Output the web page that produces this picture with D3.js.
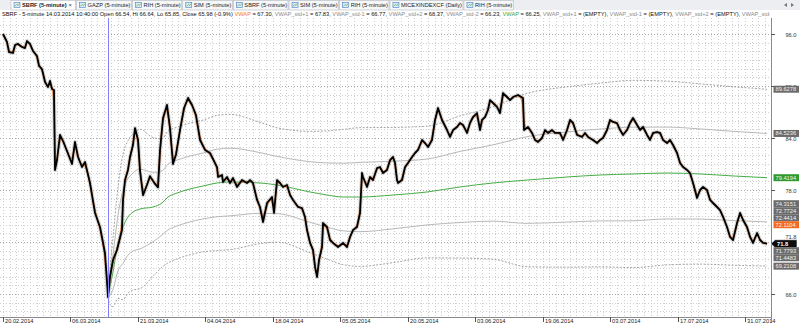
<!DOCTYPE html>
<html>
<head>
<meta charset="utf-8">
<script src="https://cdn.jsdelivr.net/npm/d3@7"></script>
<style>
  body { margin: 0; background: #fff; }
  svg { display: block; font-family: "Liberation Sans", Arial, sans-serif; }
</style>
</head>
<body>
<svg id="chart"></svg>
<script>
// ---- data ----
// x axis: trading day index (20.02.2014 = 0)
const tickDays = [0, 10, 20, 30, 40, 50, 60, 70, 80, 90, 100, 110];
const tickDates = ['20.02.2014', '06.03.2014', '21.03.2014', '04.04.2014', '18.04.2014', '05.05.2014',
  '20.05.2014', '03.06.2014', '19.06.2014', '03.07.2014', '17.07.2014', '31.07.2014'];
const priceTicks = [96, 90, 84, 78, 72, 66];

// SBRF 5-minute, sampled
const priceDays = [0.00, 0.59, 0.89, 1.48, 1.78, 2.22, 2.82, 3.26, 3.56, 4.00, 4.45, 5.04, 5.34, 5.78, 6.23, 6.67,
  6.97, 7.26, 7.56, 7.71, 8.01, 8.45, 8.90, 9.49, 10.23, 10.67, 11.12, 11.71, 12.16, 12.90, 13.64, 14.38, 15.12,
  15.57, 15.86, 16.31, 16.90, 17.64, 17.79, 18.09, 18.53, 18.83, 19.27, 19.57, 20.02, 20.31, 20.76, 21.35, 21.79,
  22.54, 22.98, 23.28, 23.72, 24.31, 24.76, 25.20, 25.65, 26.24, 26.84, 27.43, 28.02, 28.61, 29.21, 29.95, 30.69,
  31.73, 31.88, 32.47, 32.62, 33.21, 33.66, 34.10, 34.69, 35.43, 36.17, 36.62, 37.06, 37.66, 38.10, 38.55, 39.14,
  39.88, 40.18, 40.62, 41.07, 41.51, 42.11, 42.55, 43.00, 43.74, 44.33, 44.77, 45.07, 45.52, 45.96, 46.26, 46.56,
  46.85, 47.30, 47.44, 48.04, 48.48, 48.93, 49.67, 50.41, 51.00, 51.45, 51.89, 52.48, 52.93, 53.22, 53.37, 53.97,
  54.41, 54.86, 55.45, 55.89, 56.34, 56.93, 57.38, 57.82, 58.12, 58.41, 58.56, 59.16, 59.60, 60.04, 60.64, 61.08,
  61.53, 62.12, 62.56, 63.01, 63.60, 64.05, 64.49, 65.08, 65.83, 66.27, 66.72, 67.31, 67.75, 68.20, 68.79, 69.23,
  69.68, 70.27, 70.72, 71.01, 71.46, 71.90, 72.20, 72.65, 73.24, 73.68, 74.13, 74.72, 75.17, 75.61, 76.35, 77.09,
  77.24, 77.84, 78.43, 78.87, 79.32, 79.91, 80.36, 80.80, 81.39, 81.84, 82.58, 83.03, 83.62, 84.06, 84.51, 85.10,
  85.84, 86.29, 86.73, 87.47, 88.07, 88.51, 88.95, 89.55, 89.99, 90.44, 91.03, 91.48, 91.92, 92.51, 92.96, 93.40,
  94.00, 94.44, 94.89, 95.48, 95.92, 96.37, 96.96, 97.41, 97.85, 98.44, 98.89, 99.33, 99.93, 100.37, 100.82,
  101.41, 101.85, 102.30, 102.89, 103.34, 103.78, 104.37, 104.82, 105.26, 105.86, 106.30, 106.75, 107.34, 107.78,
  108.23, 108.82, 109.27, 109.71, 110.30, 110.75, 111.19, 111.79, 112.23, 112.68, 113.27];
const priceClose = [96.00, 95.08, 93.92, 93.81, 94.73, 94.85, 94.50, 94.38, 95.19, 94.85, 94.04, 93.46, 92.31, 91.96,
  90.46, 89.88, 90.58, 89.65, 89.54, 80.31, 81.46, 84.35, 83.65, 82.50, 81.00, 83.54, 81.81, 80.65, 81.23, 78.81,
  75.35, 73.73, 70.73, 65.65, 67.96, 69.92, 71.08, 73.38, 76.85, 79.15, 80.31, 81.81, 83.19, 85.15, 83.77, 80.20,
  77.40, 78.60, 79.60, 78.70, 78.30, 82.62, 86.31, 87.81, 85.15, 81.00, 82.10, 84.92, 87.46, 88.62, 87.81, 86.65,
  83.77, 82.62, 82.27, 80.65, 79.50, 79.73, 78.92, 79.50, 78.81, 79.38, 78.35, 79.15, 78.81, 79.15, 78.81, 76.85,
  76.04, 74.31, 76.50, 77.19, 75.35, 79.15, 78.81, 78.35, 78.58, 77.42, 76.85, 76.04, 75.92, 74.89, 73.38, 71.89,
  71.08, 69.12, 67.96, 69.92, 71.42, 74.19, 73.73, 72.23, 71.89, 71.42, 71.89, 71.42, 72.58, 73.38, 73.73, 75.35,
  79.96, 79.50, 78.35, 79.50, 79.15, 80.54, 80.65, 79.96, 80.31, 81.46, 81.81, 81.12, 79.15, 78.81, 79.15, 80.65,
  81.12, 81.81, 82.27, 82.62, 83.77, 83.42, 82.96, 83.77, 86.08, 87.46, 86.08, 84.92, 84.12, 84.92, 85.27, 85.73,
  85.50, 84.58, 85.73, 86.42, 86.88, 84.92, 86.08, 86.42, 87.23, 88.38, 88.04, 87.58, 86.88, 89.19, 88.73, 88.38,
  88.73, 88.96, 88.62, 84.92, 85.27, 84.58, 83.77, 83.54, 84.00, 84.92, 84.58, 84.92, 84.58, 84.58, 83.77, 84.92,
  86.08, 85.73, 84.35, 84.12, 84.58, 84.12, 83.77, 83.42, 83.77, 84.00, 84.92, 86.08, 85.85, 85.73, 84.92, 84.35,
  84.92, 85.73, 86.31, 85.50, 84.92, 85.27, 84.35, 83.77, 84.58, 84.69, 84.58, 83.77, 83.42, 83.77, 83.19, 82.27,
  81.12, 80.65, 80.31, 79.96, 78.81, 77.08, 78.00, 78.35, 78.00, 76.85, 76.50, 76.04, 75.69, 74.89, 73.73, 72.58,
  72.23, 74.19, 75.35, 74.54, 73.73, 72.58, 71.89, 73.04, 72.23, 71.89, 71.80];

// anchored VWAP (green) and its standard deviation
const anchorDay = 15.57;
const vwapDays = [15.57, 15.86, 16.31, 17.05, 17.79, 18.53, 19.27, 20.31, 22.24, 23.57, 24.46, 25.80, 27.72, 29.65,
  31.73, 33.66, 38.10, 40.62, 45.52, 48.04, 50.41, 52.93, 57.82, 62.86, 67.75, 72.65, 77.69, 83.62, 88.51, 93.40,
  98.44, 103.34, 108.23, 113.27];
const vwapValues = [65.65, 66.81, 68.54, 71.89, 73.73, 74.89, 75.46, 75.81, 76.04, 76.50, 77.19, 77.65, 78.12, 78.46,
  78.81, 78.92, 78.81, 78.58, 77.77, 77.42, 77.19, 77.19, 77.42, 77.77, 78.35, 78.81, 79.15, 79.50, 79.73, 79.85,
  79.96, 79.85, 79.62, 79.42];
const vwapStd = [0, 1.0, 2.0, 3.2, 4.2, 4.4, 4.5, 4.6, 4.0, 3.7, 3.8, 3.8, 3.8, 3.8, 3.9, 3.9, 3.5, 3.3, 3.5, 3.7,
  3.9, 4.0, 3.9, 3.8, 4.1, 4.4, 5.0, 5.2, 5.3, 5.4, 5.3, 5.2, 5.15, 5.10];

// price markers on the right scale
const markerValues = [89.6278, 84.5236, 79.4194, 74.3151, 72.7724, 72.4414, 72.1104, 71.8, 71.8, 71.7793, 71.4483, 69.2108];
const markerKinds = ['band', 'band', 'vwap', 'band', 'band', 'band', 'day', 'plain', 'last', 'band', 'band', 'band'];

const tabNames = ['SBRF (5-minute)', 'GAZP (5-minute)', 'RIH (5-minute)', 'SIM (5-minute)', 'SBRF (5-minute)',
  'SIM (5-minute)', 'RIH (5-minute)', 'MICEXINDEXCF (Daily)', 'RIH (5-minute)'];

// the status line is cut off by the price scale, as in the picture
const legendParts = [
  ['SBRF - 5-minute 14.03.2014 10:40:00 Open 66.54, Hi 66.64, Lo 65.85, Close 65.98 (-0.9%) ', 'text'],
  ['VWAP', 'day'], [' = 67.30, ', 'text'],
  ['VWAP_std+1', 'band'], [' = 67.83, ', 'text'],
  ['VWAP_std-1', 'band'], [' = 66.77, ', 'text'],
  ['VWAP_std+2', 'band'], [' = 68.37, ', 'text'],
  ['VWAP_std-2', 'band'], [' = 66.23, ', 'text'],
  ['VWAP', 'vwap'], [' = 66.25, ', 'text'],
  ['VWAP_std+1', 'band'], [' = (EMPTY), ', 'text'],
  ['VWAP_std-1', 'band'], [' = (EMPTY), ', 'text'],
  ['VWAP_std+2', 'band'], [' = (EMPTY), ', 'text'],
  ['VWAP_std-2', 'band']
];

const colors = { text: '#111', day: '#f07a30', vwap: '#3aa63a', band: '#8a8a8a' };

class PriceChart {

  constructor(_config) {
    this.config = {
      parentElement: _config.parentElement,
      containerWidth: 800,
      containerHeight: 324,
      plot: { left: 0, right: 771, top: 18, bottom: 317 },
      fontSize: 5.7
    };
    this.initVis();
  }

  initVis() {
    let vis = this;
    let p = vis.config.plot;

    vis.svg = d3.select(vis.config.parentElement)
      .attr('width', vis.config.containerWidth)
      .attr('height', vis.config.containerHeight);

    vis.xScale = d3.scaleLinear().domain([0, 110]).range([3, 745]);
    vis.yScale = d3.scaleLinear().domain([66, 96]).range([294, 34]);

    vis.svg.append('defs').append('clipPath').attr('id', 'plot-clip')
      .append('rect')
      .attr('x', p.left).attr('y', p.top)
      .attr('width', p.right - p.left).attr('height', p.bottom - p.top);

    vis.svg.select('defs').append('clipPath').attr('id', 'legend-clip')
      .append('rect').attr('x', 0).attr('y', 9).attr('width', p.right - 1).attr('height', 10);

    vis.renderVis();
  }

  renderVis() {
    let vis = this;
    let p = vis.config.plot;
    let fs = vis.config.fontSize;

    // tab strip
    vis.svg.append('rect').attr('x', 0).attr('y', 0).attr('width', 800).attr('height', 10).attr('fill', '#eceef1');
    let tx = 11;
    tabNames.forEach((name, i) => {
      let g = vis.svg.append('g');
      let active = i === 0;
      let rect = g.append('rect').attr('y', 0.5).attr('height', 9.5)
        .attr('fill', active ? '#ffffff' : '#f6f7f9').attr('stroke', '#b4b8bf').attr('stroke-width', 0.6);
      g.append('rect').attr('x', tx + 3).attr('y', 2.5).attr('width', 6).attr('height', 5)
        .attr('fill', '#dce9f7').attr('stroke', '#4a7fc0').attr('stroke-width', 0.6);
      g.append('path').attr('d', `M${tx + 3.5},6.5 L${tx + 5.5},4.5 L${tx + 7},5.5 L${tx + 8.5},3.5`)
        .attr('fill', 'none').attr('stroke', '#3aa63a').attr('stroke-width', 0.6);
      let t = g.append('text').attr('x', tx + 11).attr('y', 7.3)
        .style('font-size', fs + 'px').style('font-weight', active ? 'bold' : 'normal')
        .attr('fill', '#222').text(name);
      let w = t.node().getComputedTextLength() + 12;
      if (active) {
        g.append('text').attr('x', tx + w + 1).attr('y', 7.3).style('font-size', fs + 'px')
          .attr('fill', '#333').text('×');
        w += 8;
      }
      rect.attr('x', tx).attr('width', w);
      tx += w + 1;
    });
    vis.svg.append('path').attr('d', 'M787,3 L784,5 L787,7 Z').attr('fill', '#777');
    vis.svg.append('path').attr('d', 'M791,3 L794,5 L791,7 Z').attr('fill', '#777');

    // grid
    let grid = vis.svg.append('g').attr('clip-path', 'url(#plot-clip)');
    grid.selectAll('.vgrid')
      .data(d3.range(0, 115))
      .join('line')
      .attr('class', 'vgrid')
      .attr('x1', d => Math.round(vis.xScale(d)) + 0.5)
      .attr('x2', d => Math.round(vis.xScale(d)) + 0.5)
      .attr('y1', p.top).attr('y2', p.bottom)
      .attr('stroke', '#cfcfcf').attr('stroke-width', 1).attr('stroke-dasharray', '1,2');
    grid.selectAll('.hgrid')
      .data(d3.range(63, 98).filter(v => priceTicks.indexOf(v) < 0))
      .join('line')
      .attr('class', 'hgrid')
      .attr('x1', p.left).attr('x2', p.right)
      .attr('y1', d => Math.round(vis.yScale(d)) + 0.5)
      .attr('y2', d => Math.round(vis.yScale(d)) + 0.5)
      .attr('stroke', '#cfcfcf').attr('stroke-width', 1).attr('stroke-dasharray', '1,2');
    grid.selectAll('.hmajor')
      .data(priceTicks)
      .join('line')
      .attr('class', 'hmajor')
      .attr('x1', p.left).attr('x2', p.right)
      .attr('y1', d => Math.round(vis.yScale(d)) + 0.5)
      .attr('y2', d => Math.round(vis.yScale(d)) + 0.5)
      .attr('stroke', '#a8a8a8').attr('stroke-width', 1).attr('stroke-dasharray', '1,2');

    // anchored VWAP bands
    let plot = vis.svg.append('g').attr('clip-path', 'url(#plot-clip)');
    let vwapRows = vwapDays.map((d, i) => ({ d: d, v: vwapValues[i], s: vwapStd[i] }));
    let bandLine = k => d3.line()
      .x(r => vis.xScale(r.d))
      .y(r => vis.yScale(r.v + k * r.s))
      .curve(d3.curveMonotoneX);
    [[2, '#9a9a9a', '2,1.5'], [1, '#b0b0b0', null], [-1, '#b0b0b0', null], [-2, '#9a9a9a', '2,1.5']]
      .forEach(([k, c, dash]) => {
        plot.append('path')
          .datum(vwapRows)
          .attr('d', bandLine(k))
          .attr('fill', 'none')
          .attr('stroke', c)
          .attr('stroke-width', 0.9)
          .attr('stroke-dasharray', dash);
      });
    plot.append('path')
      .datum(vwapRows)
      .attr('d', bandLine(0))
      .attr('fill', 'none')
      .attr('stroke', '#45ad45')
      .attr('stroke-width', 1);

    // price
    let rows = priceDays.map((d, i) => ({ d: d, v: priceClose[i] }));
    let priceLine = d3.line().x(r => vis.xScale(r.d)).y(r => vis.yScale(r.v));
    plot.append('path').datum(rows).attr('d', priceLine)
      .attr('fill', 'none').attr('stroke', '#9c9c9c').attr('stroke-width', 4)
      .attr('stroke-opacity', 0.4).attr('stroke-linejoin', 'round');
    plot.append('path').datum(rows)
      .attr('d', d3.line().x(r => vis.xScale(r.d)).y(r => vis.yScale(r.v)).curve(d3.curveBasis))
      .attr('fill', 'none').attr('stroke', '#f07a30').attr('stroke-width', 1.5);
    plot.append('path').datum(rows).attr('d', priceLine)
      .attr('fill', 'none').attr('stroke', '#000').attr('stroke-width', 1.8)
      .attr('stroke-linejoin', 'round');

    // cursor line
    vis.svg.append('line')
      .attr('x1', Math.round(vis.xScale(anchorDay)) + 0.5).attr('x2', Math.round(vis.xScale(anchorDay)) + 0.5)
      .attr('y1', p.top).attr('y2', p.bottom)
      .attr('stroke', '#7f7fff').attr('stroke-width', 1);

    // legend
    let legend = vis.svg.append('text')
      .attr('clip-path', 'url(#legend-clip)')
      .attr('x', 2).attr('y', 16)
      .style('font-size', fs + 'px');
    legendParts.forEach(([t, kind]) => {
      legend.append('tspan').attr('fill', colors[kind]).style('white-space', 'pre').text(t);
    });
    legend.attr('xml:space', 'preserve');

    // x axis
    vis.svg.append('line').attr('x1', 0).attr('x2', p.right).attr('y1', p.bottom + 0.5).attr('y2', p.bottom + 0.5)
      .attr('stroke', '#8a8a8a');
    let xt = vis.svg.selectAll('.xtick').data(tickDays).join('g').attr('class', 'xtick')
      .attr('transform', d => `translate(${Math.round(vis.xScale(d)) + 0.5},0)`);
    xt.append('line').attr('y1', p.bottom).attr('y2', p.bottom + 5).attr('stroke', '#555');
    xt.append('text').attr('x', 1.5).attr('y', 323).style('font-size', fs + 'px').attr('fill', '#222')
      .text((d, i) => tickDates[i]);

    // y axis
    vis.svg.append('line').attr('x1', p.right + 0.5).attr('x2', p.right + 0.5).attr('y1', p.top).attr('y2', 322)
      .attr('stroke', '#8a8a8a');
    let yt = vis.svg.selectAll('.ytick').data(priceTicks).join('g').attr('class', 'ytick')
      .attr('transform', d => `translate(0,${Math.round(vis.yScale(d)) + 0.5})`);
    yt.append('line').attr('x1', p.right).attr('x2', p.right + 4).attr('stroke', '#555');
    yt.append('text').attr('x', 791).attr('y', 2).attr('text-anchor', 'middle')
      .style('font-size', fs + 'px').attr('fill', '#333').text(d => d.toFixed(1));

    // price markers, stacked so they do not overlap
    let marks = markerValues.map((v, i) => ({ v: v, kind: markerKinds[i], y: vis.yScale(v) }));
    let ai = marks.findIndex(m => m.kind === 'last');
    for (let i = ai - 1; i >= 0; i--) {
      let gap = marks[i + 1].kind === 'plain' ? 12 : 7;
      marks[i].y = Math.min(marks[i].y, marks[i + 1].y - gap);
    }
    for (let i = ai + 1; i < marks.length; i++) {
      marks[i].y = Math.max(marks[i].y, marks[i - 1].y + 7);
    }
    let boxFill = { band: '#6b6b6b', vwap: '#2f9b2f', day: '#f26a21', last: '#0c0c0c' };
    marks.forEach(m => {
      let g = vis.svg.append('g').attr('transform', `translate(0,${m.y})`);
      let label = m.kind === 'plain' || m.kind === 'last' ? m.v.toFixed(1) : m.v.toFixed(4);
      if (m.kind === 'plain') {
        g.append('text').attr('x', 791).attr('y', 2).attr('text-anchor', 'middle')
          .style('font-size', fs + 'px').attr('fill', '#333').text(label);
        return;
      }
      if (m.kind === 'last') {
        g.append('path').attr('d', 'M771,0 L775,-4 L797,-4 L797,4 L775,4 Z')
          .attr('fill', boxFill.last).attr('stroke', '#fff').attr('stroke-width', 0.6);
        g.append('text').attr('x', 777).attr('y', 2).style('font-size', fs + 'px')
          .style('font-weight', 'bold').attr('fill', '#fff').text(label);
        return;
      }
      g.append('rect').attr('x', 773.5).attr('y', -3.5).attr('width', 25.5).attr('height', 7)
        .attr('fill', boxFill[m.kind]);
      g.append('text').attr('x', 775.5).attr('y', 2).style('font-size', fs + 'px')
        .attr('fill', '#f2f2f2').text(label);
    });
  }
}

let priceChart = new PriceChart({ parentElement: '#chart' });
</script>
</body>
</html>
